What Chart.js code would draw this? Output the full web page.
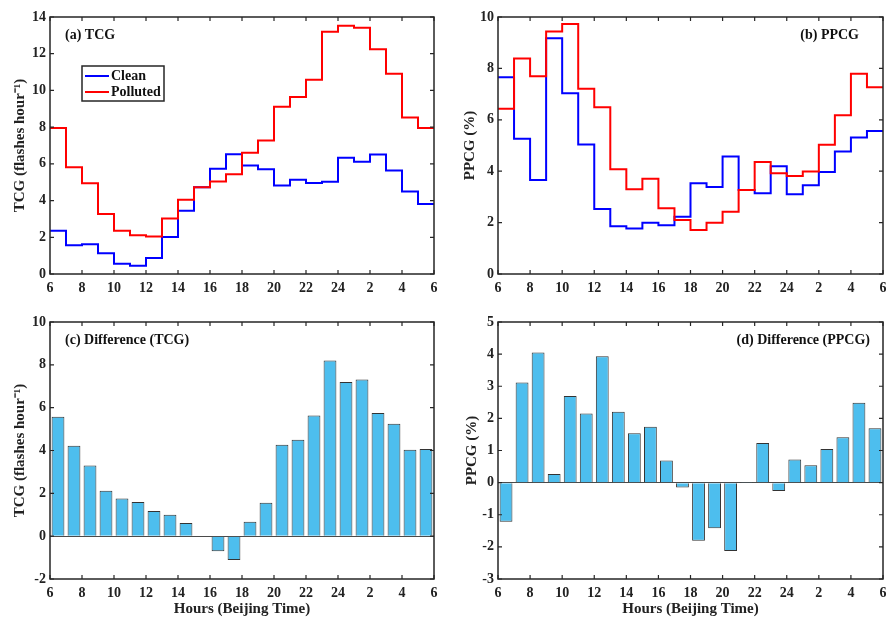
<!DOCTYPE html>
<html>
<head>
<meta charset="utf-8">
<script src="https://cdn.jsdelivr.net/npm/chart.js@4.4.1/dist/chart.umd.min.js"></script>
<style>
    body { margin: 0; background: #fff; }
    canvas { position: absolute; }
</style>
</head>
<body>
<canvas id="chartA" width="443" height="305" style="left:0;top:0"></canvas>
<canvas id="chartB" width="443" height="305" style="left:443px;top:0"></canvas>
<canvas id="chartC" width="443" height="313" style="left:0;top:305px"></canvas>
<canvas id="chartD" width="443" height="313" style="left:443px;top:305px"></canvas>
<script>
// hour at the start of each 1-hour bin (25..29 = 1..5 next day)
const hours = [6, 7, 8, 9, 10, 11, 12, 13, 14, 15, 16, 17, 18, 19, 20, 21, 22, 23, 24, 25, 26, 27, 28, 29];
const xTickLabels = ['6', '8', '10', '12', '14', '16', '18', '20', '22', '24', '2', '4', '6'];

const tcgClean = [2.35, 1.56, 1.62, 1.13, 0.56, 0.45, 0.87, 2.02, 3.44, 4.73, 5.73, 6.53, 5.91, 5.71, 4.82, 5.13, 4.96, 5.02, 6.33, 6.11, 6.51, 5.64, 4.49, 3.82];
const tcgPolluted = [7.95, 5.82, 4.95, 3.27, 2.35, 2.11, 2.04, 3.02, 4.05, 4.73, 5.04, 5.44, 6.60, 7.27, 9.11, 9.64, 10.58, 13.20, 13.53, 13.42, 12.25, 10.91, 8.53, 7.95];
const ppcgClean = [7.66, 5.26, 3.66, 9.17, 7.03, 5.04, 2.53, 1.86, 1.77, 1.99, 1.90, 2.23, 3.53, 3.39, 4.57, 3.27, 3.14, 4.19, 3.10, 3.45, 3.97, 4.77, 5.31, 5.56];
const ppcgPolluted = [6.43, 8.39, 7.69, 9.44, 9.73, 7.21, 6.49, 4.08, 3.30, 3.71, 2.56, 2.10, 1.71, 1.99, 2.42, 3.27, 4.36, 3.92, 3.81, 3.99, 5.03, 6.18, 7.79, 7.27];
const tcgDiff = [5.58, 4.22, 3.30, 2.12, 1.76, 1.60, 1.18, 1.00, 0.62, 0, -0.70, -1.11, 0.67, 1.56, 4.27, 4.50, 5.63, 8.20, 7.20, 7.31, 5.75, 5.25, 4.04, 4.07];
const ppcgDiff = [-1.22, 3.12, 4.05, 0.27, 2.70, 2.15, 3.93, 2.21, 1.54, 1.74, 0.69, -0.15, -1.81, -1.42, -2.13, 0.02, 1.23, -0.26, 0.72, 0.54, 1.05, 1.41, 2.49, 1.69];

const textColor = '#222';
const serif = '"Liberation Serif", "Times New Roman", serif';
Chart.defaults.font.family = serif;
Chart.defaults.color = textColor;
Chart.defaults.animation = false;

// step line: each value holds for its whole hour, so close the last bin at hour 30
function stepPoints(values) {
    const pts = hours.map((h, i) => ({ x: h, y: values[i] }));
    pts.push({ x: hours[hours.length - 1] + 1, y: values[values.length - 1] });
    return pts;
}

function barPoints(values) {
    return hours.map((h, i) => ({ x: h + 0.5, y: values[i] }));
}

// box, inward ticks, panel label and (optional) legend, MATLAB style
const matlabAxes = {
    id: 'matlabAxes',
    afterDraw(chart, args, opts) {
        const { ctx, chartArea: a, scales } = chart;
        ctx.save();
        ctx.strokeStyle = '#262626';
        ctx.lineWidth = 1.2;
        ctx.beginPath();
        scales.x.ticks.forEach((t) => {
            const px = scales.x.getPixelForValue(t.value);
            ctx.moveTo(px, a.bottom);
            ctx.lineTo(px, a.bottom - 4);
            ctx.moveTo(px, a.top);
            ctx.lineTo(px, a.top + 4);
        });
        scales.y.ticks.forEach((t) => {
            const py = scales.y.getPixelForValue(t.value);
            ctx.moveTo(a.left, py);
            ctx.lineTo(a.left + 4, py);
            ctx.moveTo(a.right, py);
            ctx.lineTo(a.right - 4, py);
        });
        ctx.stroke();
        ctx.lineWidth = 1.5;
        ctx.strokeRect(a.left, a.top, a.width, a.height);

        ctx.font = 'bold 14px ' + serif;
        ctx.fillStyle = '#111';
        ctx.textBaseline = 'middle';
        if (opts.align === 'right') {
            ctx.textAlign = 'right';
            ctx.fillText(opts.label, a.right - opts.dx, a.top + 18);
        } else {
            ctx.textAlign = 'left';
            ctx.fillText(opts.label, a.left + opts.dx, a.top + 18);
        }

        if (opts.legend) {
            const bx = a.left + 32;
            const by = a.top + 49;
            ctx.fillStyle = '#fff';
            ctx.fillRect(bx, by, 82, 35);
            ctx.lineWidth = 1.5;
            ctx.strokeRect(bx, by, 82, 35);
            const items = [chart.data.datasets[1], chart.data.datasets[0]];
            items.forEach((ds, i) => {
                const y = by + 10 + i * 16;
                ctx.strokeStyle = ds.borderColor;
                ctx.lineWidth = 2;
                ctx.beginPath();
                ctx.moveTo(bx + 3, y);
                ctx.lineTo(bx + 27, y);
                ctx.stroke();
                ctx.fillStyle = '#111';
                ctx.textAlign = 'left';
                ctx.fillText(ds.label, bx + 29, y);
            });
        }
        ctx.restore();
    },
};

function makeScales(cfg) {
    return {
        x: {
            type: 'linear',
            min: 6,
            max: 30,
            offset: false,
            grid: { display: false },
            border: { display: false },
            ticks: {
                stepSize: 2,
                autoSkip: false,
                maxRotation: 0,
                padding: -2,
                color: textColor,
                font: { size: 14, weight: 'bold' },
                callback: (value, index) => xTickLabels[index],
            },
            title: {
                display: cfg.xTitle,
                text: 'Hours (Beijing Time)',
                color: textColor,
                font: { size: 15, weight: 'bold' },
                padding: { top: 0, bottom: 0 },
            },
            afterFit(scale) {
                scale.height = cfg.xHeight;
                scale.paddingLeft = 0;
                scale.paddingRight = 0;
            },
        },
        y: {
            min: cfg.yMin,
            max: cfg.yMax,
            grid: {
                drawTicks: false,
                lineWidth: 1,
                color: (c) => (cfg.zeroLine && c.tick && c.tick.value === 0 ? '#4a4a4a' : 'rgba(0,0,0,0)'),
            },
            border: { display: false },
            ticks: {
                stepSize: cfg.yStep,
                padding: 4,
                color: textColor,
                font: { size: 14, weight: 'bold' },
            },
            title: {
                display: true,
                text: cfg.yTitle,
                color: textColor,
                font: { size: 15, weight: 'bold' },
                padding: { top: cfg.yTitlePad, bottom: 0 },
            },
            afterFit(scale) {
                scale.width = cfg.yWidth;
                scale.paddingTop = 0;
                scale.paddingBottom = 0;
            },
        },
    };
}

function lineChart(id, clean, polluted, scaleCfg, label, padRight) {
    new Chart(document.getElementById(id), {
        type: 'line',
        data: {
            datasets: [
                // polluted first so it sits on top of clean
                {
                    label: 'Polluted',
                    data: stepPoints(polluted),
                    borderColor: '#ff0000',
                    borderWidth: 2,
                    stepped: true,
                    pointRadius: 0,
                    borderJoinStyle: 'miter',
                },
                {
                    label: 'Clean',
                    data: stepPoints(clean),
                    borderColor: '#0000ff',
                    borderWidth: 2,
                    stepped: true,
                    pointRadius: 0,
                    borderJoinStyle: 'miter',
                },
            ],
        },
        options: {
            responsive: false,
            layout: { padding: { top: 17, right: padRight, left: 0, bottom: 0 } },
            plugins: {
                legend: { display: false },
                tooltip: { enabled: false },
                matlabAxes: label,
            },
            scales: makeScales(scaleCfg),
        },
        plugins: [matlabAxes],
    });
}

function barChart(id, values, scaleCfg, label, padRight) {
    new Chart(document.getElementById(id), {
        type: 'bar',
        data: {
            datasets: [
                {
                    label: 'Difference',
                    data: barPoints(values),
                    backgroundColor: '#4dbeee',
                    borderColor: '#333',
                    borderWidth: 1,
                    barPercentage: 0.8,
                    categoryPercentage: 1,
                },
            ],
        },
        options: {
            responsive: false,
            layout: { padding: { top: 17, right: padRight, left: 0, bottom: 0 } },
            plugins: {
                legend: { display: false },
                tooltip: { enabled: false },
                matlabAxes: label,
            },
            scales: makeScales(scaleCfg),
        },
        plugins: [matlabAxes],
    });
}

lineChart('chartA', tcgClean, tcgPolluted, {
    yMin: 0, yMax: 14, yStep: 2, yTitle: 'TCG (flashes hour⁻¹)', yTitlePad: 11, yWidth: 50, xHeight: 31, xTitle: false,
}, { label: '(a) TCG', align: 'left', dx: 15, legend: true }, 9);

lineChart('chartB', ppcgClean, ppcgPolluted, {
    yMin: 0, yMax: 10, yStep: 2, yTitle: 'PPCG (%)', yTitlePad: 18, yWidth: 55, xHeight: 31, xTitle: false,
}, { label: '(b) PPCG', align: 'right', dx: 24 }, 3);

barChart('chartC', tcgDiff, {
    yMin: -2, yMax: 10, yStep: 2, yTitle: 'TCG (flashes hour⁻¹)', yTitlePad: 11, yWidth: 50, xHeight: 39, xTitle: true, zeroLine: true,
}, { label: '(c) Difference (TCG)', align: 'left', dx: 15 }, 9);

barChart('chartD', ppcgDiff, {
    yMin: -3, yMax: 5, yStep: 1, yTitle: 'PPCG (%)', yTitlePad: 20, yWidth: 55, xHeight: 39, xTitle: true, zeroLine: true,
}, { label: '(d) Difference (PPCG)', align: 'right', dx: 13 }, 3);
</script>
</body>
</html>
